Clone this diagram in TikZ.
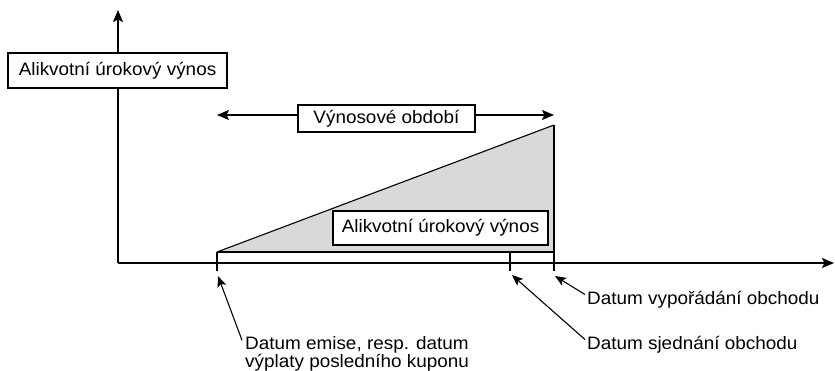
\documentclass[tikz,border=0pt]{standalone}
\usepackage{fontspec}
\setmainfont{Liberation Sans}[FakeStretch=1.05]
\usetikzlibrary{arrows.meta}
\definecolor{trigray}{RGB}{217,217,217}
\tikzset{
  lbl/.style={font=\fontsize{18}{15.5}\selectfont, inner sep=0pt},
  boxed/.style={lbl, draw, fill=white, line width=1.1pt},
  ln/.style={line width=1.1pt},
  arr/.style={ln, -{Stealth[length=12pt,width=10pt,inset=2.5pt]}},
  sarr/.style={ln, -{Stealth[length=11pt,width=9pt,inset=2.5pt]}}
}
\begin{document}
\begin{tikzpicture}[x=1pt,y=-1pt]
\useasboundingbox (0,0) rectangle (835,370);
% shaded triangle
\fill[trigray] (217,252) -- (554,125) -- (554,252) -- cycle;
\draw[ln] (217,252) -- (554,125);
\draw[ln] (217,252) -- (554,252);
% axes
\coordinate (O) at (118,263);
\coordinate (Ytop) at (118,10);
\coordinate (Xend) at (834,263);
\draw[arr] (O) -- (Ytop);
\draw[arr] (O) -- (Xend);
% ticks
\coordinate (t1) at (217,271);
\coordinate (t2) at (510,271);
\coordinate (t3) at (554,271);
\draw[ln] (217,252) -- (t1);
\draw[ln] (510,252) -- (t2);
\draw[ln] (554,125) -- (t3);
% y-axis label box
\node[boxed, minimum width=219pt, minimum height=35pt] (ylab) at (117.5,70.5) {Alikvotní úrokový výnos};
% period arrow
\node[boxed, minimum width=177pt, minimum height=27pt] (per) at (386.5,118.5) {Výnosové období};
\coordinate (pl) at (217,115);
\coordinate (pr) at (554,115);
\draw[arr] (per.west |- pl) -- (pl);
\draw[arr] (per.east |- pr) -- (pr);
% inner box
\node[boxed, minimum width=215pt, minimum height=34pt] (inner) at (440.5,228) {Alikvotní úrokový výnos};
% labels
\node[lbl, anchor=base west] (vyp) at (587,304) {Datum vypořádání obchodu};
\node[lbl, anchor=base west] (sje) at (587,349) {Datum sjednání obchodu};
\node[lbl, anchor=base west, align=left] (emi) at (245,367.5) {Datum emise, resp. datum\\výplaty posledního kuponu};
\coordinate (a3) at (555,276);
\coordinate (a2) at (512,275);
\coordinate (a1) at (218,276);
\draw[sarr] ([shift={(-2pt,-4pt)}]vyp.north west) -- (a3);
\draw[sarr] ([shift={(-2pt,-4pt)}]sje.north west) -- (a2);
\draw[sarr] ([shift={(-3pt,-4pt)}]emi.north west) -- (a1);
\end{tikzpicture}
\end{document}
